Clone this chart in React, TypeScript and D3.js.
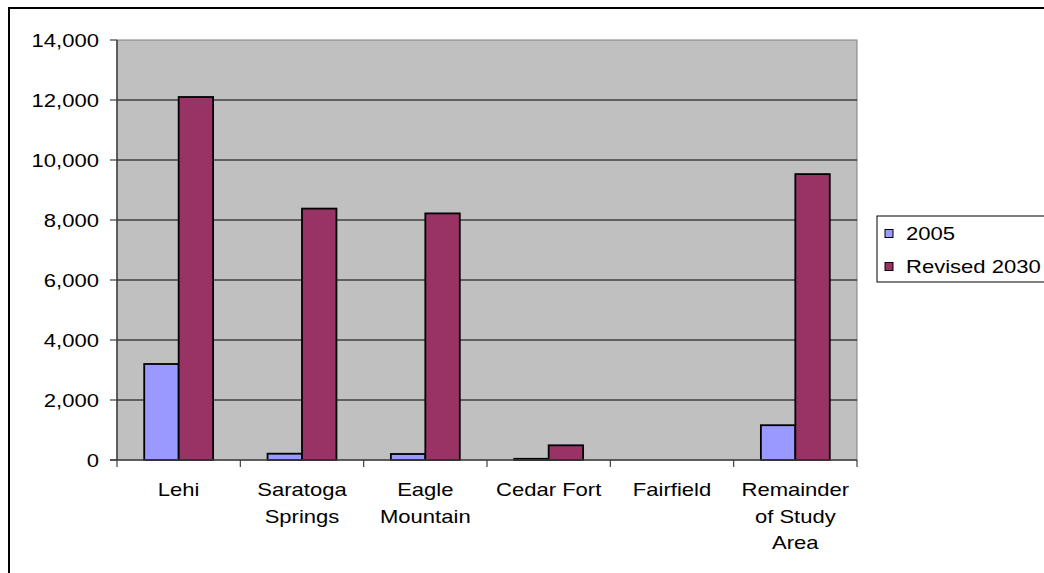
import React from "react";
import * as d3 from "d3";

const categories: string[][] = [
  ["Lehi"],
  ["Saratoga", "Springs"],
  ["Eagle", "Mountain"],
  ["Cedar Fort"],
  ["Fairfield"],
  ["Remainder", "of Study", "Area"],
];
const seriesNames = ["2005", "Revised 2030"];
const values2005 = [3200, 210, 200, 40, 0, 1160];
const valuesRevised2030 = [12100, 8380, 8220, 490, 0, 9530];
const yTicks = [0, 2000, 4000, 6000, 8000, 10000, 12000, 14000];
const seriesColors = ["#9999FF", "#993366"];

const W = 1044;
const H = 573;
const plot = { left: 117, right: 857, top: 40, bottom: 460 };
const FONT = "'Liberation Sans', Arial, sans-serif";
const FS = 19;
const SX = 1.16; // horizontal stretch of the lettering

export default function App() {
  const keys = categories.map((c) => c.join(" "));
  const x0 = d3.scaleBand<string>().domain(keys).range([plot.left, plot.right]);
  const x1 = d3
    .scaleBand<string>()
    .domain(seriesNames)
    .range([0, x0.bandwidth()])
    .paddingInner(0)
    .paddingOuter(0.79);
  const y = d3.scaleLinear().domain([0, 14000]).range([plot.bottom, plot.top]);
  const fmt = d3.format(",");
  const series = [values2005, valuesRevised2030];

  const tickEdges = d3.range(categories.length + 1).map((i) =>
    i < categories.length ? (x0(keys[i]) as number) : plot.right
  );

  return (
    <svg
      width={W}
      height={H}
      style={{ position: "absolute", left: 0, top: 0, background: "#fff" }}
      fontFamily={FONT}
    >
      {/* chart frame */}
      <rect x={9} y={8} width={1200} height={700} fill="none" stroke="#000" strokeWidth={2} />

      {/* plot area */}
      <rect
        x={plot.left}
        y={plot.top}
        width={plot.right - plot.left}
        height={plot.bottom - plot.top}
        fill="#C0C0C0"
        stroke="#808080"
        strokeWidth={1}
      />

      {/* gridlines */}
      {yTicks
        .filter((t) => t > 0 && t < 14000)
        .map((t) => (
          <line
            key={"g" + t}
            x1={plot.left}
            x2={plot.right}
            y1={y(t)}
            y2={y(t)}
            stroke="#000"
            strokeWidth={1}
          />
        ))}

      {/* bars */}
      {keys.map((k, i) => (
        <g key={k} transform={`translate(${x0(k)},0)`}>
          {seriesNames.map((s, j) => {
            const v = series[j][i];
            if (v <= 0) return null;
            return (
              <rect
                key={s}
                x={x1(s)}
                y={y(v)}
                width={x1.bandwidth()}
                height={plot.bottom - y(v)}
                fill={seriesColors[j]}
                stroke="#000"
                strokeWidth={1.8}
              />
            );
          })}
        </g>
      ))}

      {/* axes */}
      <line x1={plot.left} x2={plot.left} y1={plot.top} y2={plot.bottom} stroke="#404040" strokeWidth={1.5} />
      <line x1={plot.left - 7} x2={plot.right} y1={plot.bottom} y2={plot.bottom} stroke="#404040" strokeWidth={1.5} />

      {yTicks.map((t) => (
        <g key={"y" + t}>
          <line x1={plot.left - 7} x2={plot.left} y1={y(t)} y2={y(t)} stroke="#404040" strokeWidth={1.2} />
          <text
            transform={`translate(${plot.left - 18},${y(t) + 7}) scale(${SX},1)`}
            textAnchor="end"
            fontSize={FS}
            fill="#000"
          >
            {fmt(t)}
          </text>
        </g>
      ))}

      {tickEdges.map((xe, i) => (
        <line key={"xt" + i} x1={xe} x2={xe} y1={plot.bottom} y2={plot.bottom + 7} stroke="#404040" strokeWidth={1.2} />
      ))}

      {categories.map((lines, i) => {
        const cx = (x0(keys[i]) as number) + x0.bandwidth() / 2;
        return lines.map((ln, li) => (
          <text
            key={keys[i] + li}
            transform={`translate(${cx},${496 + li * 26.5}) scale(${SX},1)`}
            textAnchor="middle"
            fontSize={FS}
            fill="#000"
          >
            {ln}
          </text>
        ));
      })}

      {/* legend */}
      <rect x={877} y={216} width={300} height={66} fill="#fff" stroke="#000" strokeWidth={1} />
      {seriesNames.map((s, j) => (
        <g key={"lg" + s}>
          <rect
            x={885}
            y={229.5 + j * 33}
            width={8}
            height={8}
            fill={seriesColors[j]}
            stroke="#000"
            strokeWidth={1}
          />
          <text
            transform={`translate(906,${240 + j * 33}) scale(${SX},1)`}
            fontSize={FS}
            fill="#000"
          >
            {s}
          </text>
        </g>
      ))}
    </svg>
  );
}
